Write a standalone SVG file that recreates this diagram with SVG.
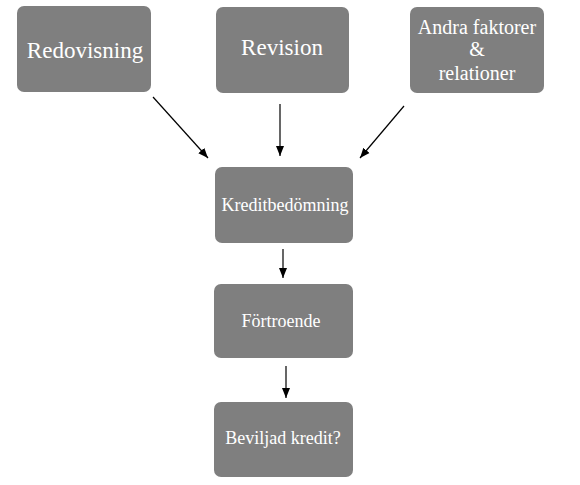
<svg xmlns="http://www.w3.org/2000/svg" width="580" height="485" viewBox="0 0 580 485">
<defs>
<marker id="ah" viewBox="0 0 10 10" refX="10" refY="5" markerWidth="10" markerHeight="10" markerUnits="userSpaceOnUse" orient="auto">
<path d="M0,1 L10,5 L0,9 z" fill="#000"/>
</marker>
</defs>
<style>
.box{fill:#7f7f7f;}
.t{fill:#fff;text-anchor:middle;}
.c{stroke:#000;stroke-width:1.2;fill:none;marker-end:url(#ah);}
</style>
<rect width="580" height="485" fill="#fff"/>
<g font-family="Liberation Serif, serif">
<g id="redovisning"><rect class="box" x="17" y="6" width="134" height="86" rx="7"/><text class="t" x="85" y="58" font-size="23">Redovisning</text></g>
<g id="revision"><rect class="box" x="216" y="7" width="133" height="86" rx="7"/><text class="t" x="282" y="55" font-size="23">Revision</text></g>
<g id="andra"><rect class="box" x="410" y="7" width="134" height="86" rx="7"/><text class="t" x="477" y="34" font-size="20">Andra faktorer</text><text class="t" x="477" y="56" font-size="20">&amp;</text><text class="t" x="477" y="80" font-size="20">relationer</text></g>
<g id="kredit"><rect class="box" x="215" y="167" width="138" height="76" rx="7"/><text class="t" x="285" y="211" font-size="18">Kreditbedömning</text></g>
<g id="fortroende"><rect class="box" x="214" y="284" width="139" height="74" rx="7"/><text class="t" x="281" y="327" font-size="18">Förtroende</text></g>
<g id="beviljad"><rect class="box" x="214" y="402" width="139" height="75" rx="7"/><text class="t" x="283" y="444" font-size="18">Beviljad kredit?</text></g>
</g>
<g id="connectors">
<line class="c" x1="153" y1="97" x2="208" y2="158"/>
<line class="c" x1="280" y1="104" x2="280" y2="156"/>
<line class="c" x1="404" y1="106" x2="360" y2="158"/>
<line class="c" x1="283" y1="249" x2="283" y2="278"/>
<line class="c" x1="286" y1="366" x2="286" y2="398"/>
</g>
</svg>
